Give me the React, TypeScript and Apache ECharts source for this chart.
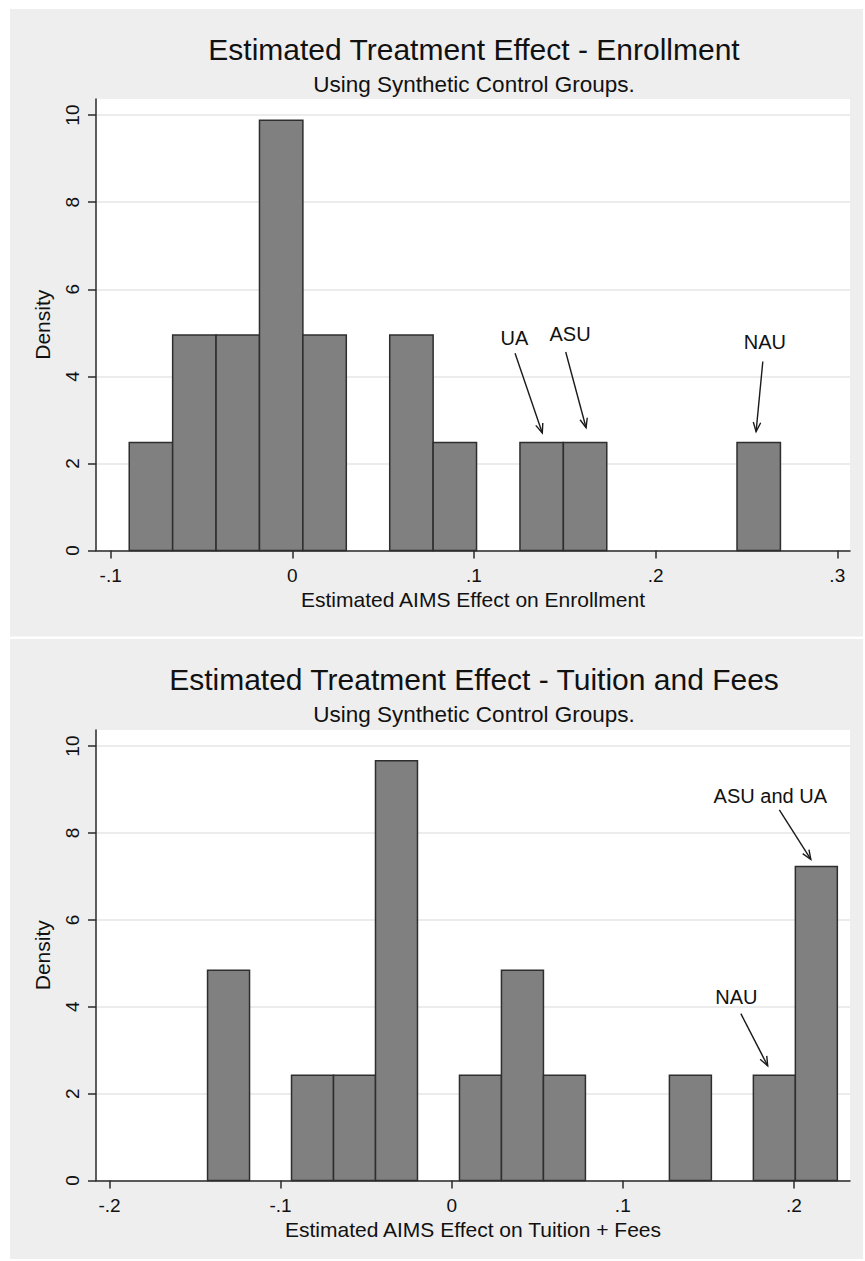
import React, { useEffect, useRef } from "react";
import * as echarts from "echarts";

// ---- Data ----
const enrollTicksX = [-0.1, 0, 0.1, 0.2, 0.3];
const tuitionTicksX = [-0.2, -0.1, 0, 0.1, 0.2];
const densityTicks = [0, 2, 4, 6, 8, 10];

const enrollBinStart = -0.0898;
const enrollBinWidth = 0.0239;
const enrollDensity = [2.48, 4.95, 4.95, 9.88, 4.95, 0, 4.95, 2.48, 0, 2.48, 2.48, 0, 0, 0, 2.48];

const tuitionBinStart = -0.1427;
const tuitionBinWidth = 0.02454;
const tuitionDensity = [4.84, 0, 2.42, 2.42, 9.66, 0, 2.42, 4.84, 2.42, 0, 0, 2.42, 0, 2.42, 7.23];

// [labelX, labelY, arrowFromX, arrowFromY, arrowToX, arrowToY]
const enrollNoteLabels = ["UA", "ASU", "NAU"];
const enrollNotes = [
  [0.1223, 4.88, 0.1226, 4.53, 0.1376, 2.7],
  [0.1529, 4.97, 0.1505, 4.56, 0.1617, 2.82],
  [0.2601, 4.79, 0.259, 4.34, 0.2553, 2.73],
];
const tuitionNoteLabels = ["ASU and UA", "NAU"];
const tuitionNotes = [
  [0.1862, 8.84, 0.1915, 8.53, 0.2099, 7.39],
  [0.1664, 4.23, 0.169, 3.84, 0.1847, 2.64],
];

const FONT = '"Liberation Sans", Arial, Helvetica, sans-serif';
const TEXT = "#111111";
const AXIS = "#2a2a2a";

function binData(start: number, width: number, dens: number[]) {
  return dens.map((d, i) => [start + i * width, start + (i + 1) * width, d]);
}

const fmtX = (v: number) => (v === 0 ? "0" : String(v).replace("0.", "."));

function histSeries(idx: number, data: number[][]) {
  return {
    type: "custom",
    xAxisIndex: idx,
    yAxisIndex: idx,
    encode: { x: [0, 1], y: 2 },
    data,
    renderItem: (params: any, api: any) => {
      const h = api.value(2);
      if (!(h > 0)) return { type: "group", children: [] };
      const p0 = api.coord([api.value(0), h]);
      const p1 = api.coord([api.value(1), 0]);
      return {
        type: "rect",
        shape: { x: p0[0], y: p0[1], width: p1[0] - p0[0], height: p1[1] - p0[1] },
        style: { fill: "#808080", stroke: "#2e2e2e", lineWidth: 1.5 },
      };
    },
  };
}

function noteSeries(idx: number, data: number[][], labels: string[]) {
  return {
    type: "custom",
    xAxisIndex: idx,
    yAxisIndex: idx,
    encode: { x: [0, 2, 4], y: [1, 3, 5] },
    data,
    z: 5,
    renderItem: (params: any, api: any) => {
      const i = params.dataIndex;
      const lp = api.coord([api.value(0), api.value(1)]);
      const a = api.coord([api.value(2), api.value(3)]);
      const b = api.coord([api.value(4), api.value(5)]);
      const ang = Math.atan2(b[1] - a[1], b[0] - a[0]);
      const L = 10;
      const w = 0.38;
      const h1 = [b[0] - L * Math.cos(ang - w), b[1] - L * Math.sin(ang - w)];
      const h2 = [b[0] - L * Math.cos(ang + w), b[1] - L * Math.sin(ang + w)];
      return {
        type: "group",
        children: [
          {
            type: "text",
            x: lp[0],
            y: lp[1],
            style: {
              text: labels[i],
              font: `20px ${FONT}`,
              fill: TEXT,
              align: "center",
              verticalAlign: "middle",
            },
          },
          {
            type: "line",
            shape: { x1: a[0], y1: a[1], x2: b[0], y2: b[1] },
            style: { stroke: "#1a1a1a", lineWidth: 1.4 },
          },
          {
            type: "polyline",
            shape: { points: [h1, b, h2] },
            style: { stroke: "#1a1a1a", lineWidth: 1.4, fill: "none" },
          },
        ],
      };
    },
  };
}

function xAxis(idx: number, min: number, max: number, ticks: number[], name: string) {
  return {
    type: "value",
    gridIndex: idx,
    min,
    max,
    name,
    nameLocation: "middle",
    nameGap: 38,
    nameTextStyle: { fontFamily: FONT, fontSize: 21, color: TEXT },
    axisLine: { show: true, onZero: false, lineStyle: { color: AXIS, width: 1.5 } },
    axisTick: { show: true, length: 8, lineStyle: { color: AXIS, width: 1.5 }, customValues: ticks },
    axisLabel: {
      show: true,
      margin: 15,
      fontFamily: FONT,
      fontSize: 19,
      color: TEXT,
      customValues: ticks,
      formatter: (v: number) => fmtX(v),
    },
    splitLine: { show: false },
  };
}

function yAxis(idx: number, max: number) {
  return {
    type: "value",
    gridIndex: idx,
    min: 0,
    max,
    name: "Density",
    nameLocation: "middle",
    nameRotate: 90,
    nameGap: 43,
    nameTextStyle: { fontFamily: FONT, fontSize: 21, color: TEXT },
    axisLine: { show: true, onZero: false, lineStyle: { color: AXIS, width: 1.5 } },
    axisTick: { show: true, length: 8, lineStyle: { color: AXIS, width: 1.5 }, customValues: densityTicks },
    axisLabel: {
      show: true,
      rotate: 90,
      margin: 14,
      fontFamily: FONT,
      fontSize: 19,
      color: TEXT,
      customValues: densityTicks,
      formatter: (v: number) => String(v),
    },
    splitLine: { show: true, lineStyle: { color: "#e6e6e6", width: 1.5 } },
  };
}

function title(text: string, top: number, size: number) {
  return {
    text,
    left: 474,
    top,
    padding: 0,
    textAlign: "center",
    textStyle: { fontFamily: FONT, fontSize: size, fontWeight: "normal", color: TEXT },
  };
}

export default function App() {
  const ref = useRef<HTMLDivElement>(null);
  useEffect(() => {
    if (!ref.current) return;
    const chart = echarts.init(ref.current, null, { renderer: "svg" });
    const option: any = {
      animation: false,
      backgroundColor: "#ffffff",
      textStyle: { fontFamily: FONT },
      graphic: {
        elements: [
          { type: "rect", z: -100, shape: { x: 10, y: 9, width: 853, height: 627.5 }, style: { fill: "#eeeeee" } },
          { type: "rect", z: -100, shape: { x: 10, y: 639, width: 853, height: 620 }, style: { fill: "#eeeeee" } },
        ],
      },
      title: [
        title("Estimated Treatment Effect - Enrollment", 34, 30),
        title("Using Synthetic Control Groups.", 73, 22.5),
        title("Estimated Treatment Effect - Tuition and Fees", 664, 30),
        title("Using Synthetic Control Groups.", 703, 22.5),
      ],
      grid: [
        { left: 96, top: 99, width: 754, height: 451.5, show: true, backgroundColor: "#ffffff", borderWidth: 0, containLabel: false, outerBoundsMode: "none" },
        { left: 96, top: 730, width: 754, height: 450.5, show: true, backgroundColor: "#ffffff", borderWidth: 0, containLabel: false, outerBoundsMode: "none" },
      ],
      xAxis: [
        xAxis(0, -0.1081, 0.307, enrollTicksX, "Estimated AIMS Effect on Enrollment"),
        xAxis(1, -0.2079, 0.2328, tuitionTicksX, "Estimated AIMS Effect on Tuition + Fees"),
      ],
      yAxis: [yAxis(0, 10.37), yAxis(1, 10.37)],
      series: [
        histSeries(0, binData(enrollBinStart, enrollBinWidth, enrollDensity)),
        noteSeries(0, enrollNotes, enrollNoteLabels),
        histSeries(1, binData(tuitionBinStart, tuitionBinWidth, tuitionDensity)),
        noteSeries(1, tuitionNotes, tuitionNoteLabels),
      ],
    };
    chart.setOption(option);
    return () => chart.dispose();
  }, []);
  return (
    <div
      ref={ref}
      style={{ position: "absolute", left: 0, top: 0, width: 865, height: 1261 }}
    />
  );
}
